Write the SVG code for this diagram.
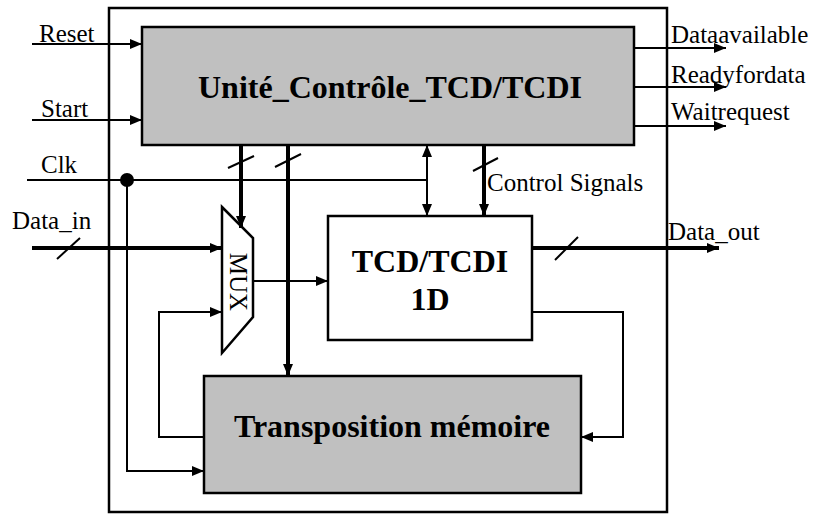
<svg xmlns="http://www.w3.org/2000/svg" width="818" height="514" viewBox="0 0 818 514">
<defs>
<marker id="ah" markerUnits="userSpaceOnUse" markerWidth="14" markerHeight="12" refX="12" refY="5" orient="auto"><path d="M0,0 L12,5 L0,10 Z" fill="#000"/></marker>
<marker id="ahs" markerUnits="userSpaceOnUse" markerWidth="14" markerHeight="12" refX="0" refY="5" orient="auto"><path d="M12,0 L0,5 L12,10 Z" fill="#000"/></marker>
<style>
.t{font-family:"Liberation Serif","Times New Roman",serif;font-size:25px;fill:#000}
.b{font-family:"Liberation Serif","Times New Roman",serif;font-size:32px;font-weight:bold;fill:#000;text-anchor:middle}
.box{stroke:#000;stroke-width:2.5}
.w{fill:none;stroke:#000;stroke-width:2}
.k{fill:none;stroke:#000;stroke-width:4}
.s{fill:none;stroke:#000;stroke-width:2}
</style>
</defs>
<rect width="818" height="514" fill="#fff"/>
<g id="outer"><rect x="109" y="8" width="558" height="504" fill="none" class="box" stroke-width="2"/></g>
<g id="control"><rect x="142" y="27" width="492" height="118" fill="#c0c0c0" class="box"/><text class="b" x="390" y="98">Unité_Contrôle_TCD/TCDI</text></g>
<g id="tcd"><rect x="328" y="216" width="204" height="124" fill="#fff" class="box"/><text class="b" x="430" y="272">TCD/TCDI</text><text class="b" x="430" y="310">1D</text></g>
<g id="transposition"><rect x="204" y="376" width="377" height="117" fill="#c0c0c0" class="box"/><text class="b" x="392" y="437">Transposition mémoire</text></g>
<g id="mux"><path d="M222,207 L253,238 L253,317 L222,353 Z" fill="#fff" class="box" stroke-width="2"/><text class="t" transform="translate(230,282) rotate(90)" text-anchor="middle">MUX</text></g>
<g id="connectors">
<line class="w" x1="32" y1="44" x2="142" y2="44" marker-end="url(#ah)"/>
<line class="w" x1="32" y1="120" x2="142" y2="120" marker-end="url(#ah)"/>
<line class="w" x1="27" y1="180" x2="427" y2="180"/>
<circle cx="127" cy="180" r="7" fill="#000"/>
<polyline class="w" points="127,180 127,471 204,471" marker-end="url(#ah)"/>
<line class="w" x1="427" y1="145" x2="427" y2="216" marker-start="url(#ahs)" marker-end="url(#ah)"/>
<line class="k" x1="484" y1="145" x2="484" y2="216" marker-end="url(#ah)"/>
<line class="s" x1="473" y1="171" x2="498" y2="158"/>
<line class="k" x1="241" y1="145" x2="241" y2="228" marker-end="url(#ah)"/>
<line class="s" x1="228" y1="168" x2="254" y2="156"/>
<line class="k" x1="288" y1="145" x2="288" y2="376" marker-end="url(#ah)"/>
<line class="s" x1="275" y1="167" x2="301" y2="154"/>
<line class="k" x1="32" y1="248" x2="222" y2="248" marker-end="url(#ah)"/>
<line class="s" x1="57" y1="259" x2="80" y2="238"/>
<polyline class="w" points="204,437 159,437 159,312 222,312" marker-end="url(#ah)"/>
<line class="w" x1="253" y1="281" x2="328" y2="281" marker-end="url(#ah)"/>
<line class="k" x1="532" y1="248" x2="719" y2="248" marker-end="url(#ah)"/>
<line class="s" x1="555" y1="260" x2="578" y2="237"/>
<polyline class="w" points="532,312 623,312 623,437 581,437" marker-end="url(#ah)"/>
<line class="w" x1="634" y1="48" x2="726" y2="48" marker-end="url(#ah)"/>
<line class="w" x1="634" y1="87" x2="726" y2="87" marker-end="url(#ah)"/>
<line class="w" x1="634" y1="126" x2="726" y2="126" marker-end="url(#ah)"/>
</g>
<g id="labels">
<text class="t" x="39" y="42">Reset</text>
<text class="t" x="41" y="117">Start</text>
<text class="t" x="41" y="173">Clk</text>
<text class="t" x="12" y="229">Data_in</text>
<text class="t" x="487" y="191">Control Signals</text>
<text class="t" x="668" y="240">Data_out</text>
<text class="t" x="671" y="43">Dataavailable</text>
<text class="t" x="671" y="83">Readyfordata</text>
<text class="t" x="671" y="120">Waitrequest</text>
</g>
</svg>
